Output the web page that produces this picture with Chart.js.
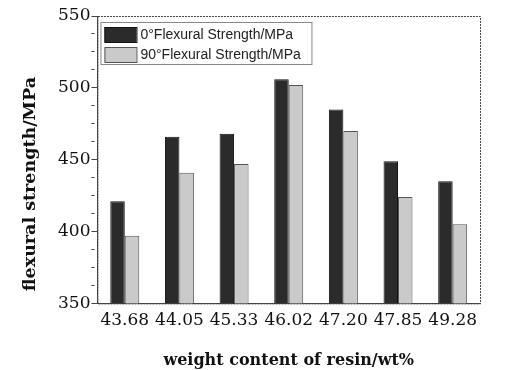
<!DOCTYPE html>
<html lang="en">
<head>
    <meta charset="UTF-8">
    <title>flexural strength vs resin content</title>
    <script src="https://cdn.jsdelivr.net/npm/chart.js"></script>
    <style>
        body {
            margin: 0;
            background: #ffffff;
        }
        .chart-container {
            width: 507px;
            height: 370px;
        }
    </style>
</head>
<body>
    <div class="chart-container">
        <canvas id="barChart"></canvas>
    </div>

    <script>
        // data
        const resinContent = ['43.68', '44.05', '45.33', '46.02', '47.20', '47.85', '49.28'];
        const strength0 = [421, 466, 468, 506, 485, 449, 435];
        const strength90 = [397, 441, 447, 502, 470, 424, 405];
        const seriesNames = ['0\u00B0Flexural Strength/MPa', '90\u00B0Flexural Strength/MPa'];

        const serif = "'DejaVu Serif', 'Liberation Serif', serif";
        const sans = "'Liberation Sans', Arial, sans-serif";

        // dashed frame round the plot area
        const framePlugin = {
            id: 'frame',
            afterDraw(chart) {
                const { ctx, chartArea } = chart;
                ctx.save();
                ctx.strokeStyle = '#444';
                ctx.lineWidth = 1;
                ctx.setLineDash([2, 1]);
                ctx.strokeRect(chartArea.left + 0.5, chartArea.top + 0.5,
                    chartArea.right - chartArea.left, chartArea.bottom - chartArea.top);
                ctx.restore();
            }
        };

        // legend drawn inside the plot, top left
        const insideLegend = {
            id: 'insideLegend',
            afterDraw(chart) {
                const { ctx, chartArea } = chart;
                const x = chartArea.left + 3;
                const y = chartArea.top + 6;
                ctx.save();
                ctx.fillStyle = '#fff';
                ctx.fillRect(x, y, 211, 42);
                ctx.strokeStyle = '#888';
                ctx.lineWidth = 1;
                ctx.strokeRect(x + 0.5, y + 0.5, 211, 42);
                ctx.font = '14px ' + sans;
                ctx.textBaseline = 'middle';
                chart.data.datasets.forEach((ds, i) => {
                    const cy = y + 12 + i * 20;
                    ctx.fillStyle = ds.backgroundColor;
                    ctx.fillRect(x + 4, cy - 7, 32, 15);
                    ctx.strokeStyle = ds.borderColor;
                    ctx.strokeRect(x + 4.5, cy - 6.5, 32, 15);
                    ctx.fillStyle = '#222';
                    ctx.fillText(ds.label, x + 40, cy + 1);
                });
                ctx.restore();
            }
        };

        document.addEventListener('DOMContentLoaded', function() {
            const ctx = document.getElementById('barChart');
            new Chart(ctx, {
                type: 'bar',
                data: {
                    labels: resinContent,
                    datasets: [{
                        label: seriesNames[0],
                        data: strength0,
                        backgroundColor: '#2b2b2b',
                        borderColor: '#111',
                        borderWidth: 1,
                        categoryPercentage: 0.53,
                        barPercentage: 1.0
                    }, {
                        label: seriesNames[1],
                        data: strength90,
                        backgroundColor: '#cacaca',
                        borderColor: '#555',
                        borderWidth: 1,
                        categoryPercentage: 0.53,
                        barPercentage: 1.0
                    }]
                },
                options: {
                    responsive: true,
                    maintainAspectRatio: false,
                    animation: false,
                    layout: {
                        padding: { left: 20, right: 27, top: 16, bottom: 0 }
                    },
                    plugins: {
                        legend: { display: false },
                        tooltip: { enabled: false }
                    },
                    scales: {
                        x: {
                            grid: { display: false, drawTicks: false },
                            border: { display: true, color: '#444' },
                            ticks: {
                                color: '#111',
                                padding: 7,
                                maxRotation: 0,
                                autoSkip: false,
                                font: { family: serif, size: 17 }
                            },
                            title: {
                                display: true,
                                text: 'weight content of resin/wt%',
                                color: '#111',
                                padding: { top: 13, bottom: 0 },
                                font: { family: serif, size: 16, weight: 'bold' }
                            }
                        },
                        y: {
                            min: 350,
                            max: 550,
                            grid: {
                                drawOnChartArea: false,
                                tickLength: 6,
                                tickColor: '#444',
                                tickBorderDash: (c) => (c.tick && c.tick.value % 50 !== 0) ? [3, 20] : []
                            },
                            border: { display: true, color: '#444' },
                            ticks: {
                                stepSize: 12.5,
                                autoSkip: false,
                                color: '#111',
                                padding: 1,
                                font: { family: serif, size: 17 },
                                callback: (v) => v % 50 === 0 ? v : ''
                            },
                            title: {
                                display: true,
                                // trailing spaces push the title a little down, as in the picture
                                text: 'flexural strength/MPa        ',
                                color: '#111',
                                padding: { top: 0, bottom: 16 },
                                font: { family: serif, size: 17.5, weight: 'bold' }
                            }
                        }
                    }
                },
                plugins: [framePlugin, insideLegend]
            });
        });
    </script>
</body>
</html>
